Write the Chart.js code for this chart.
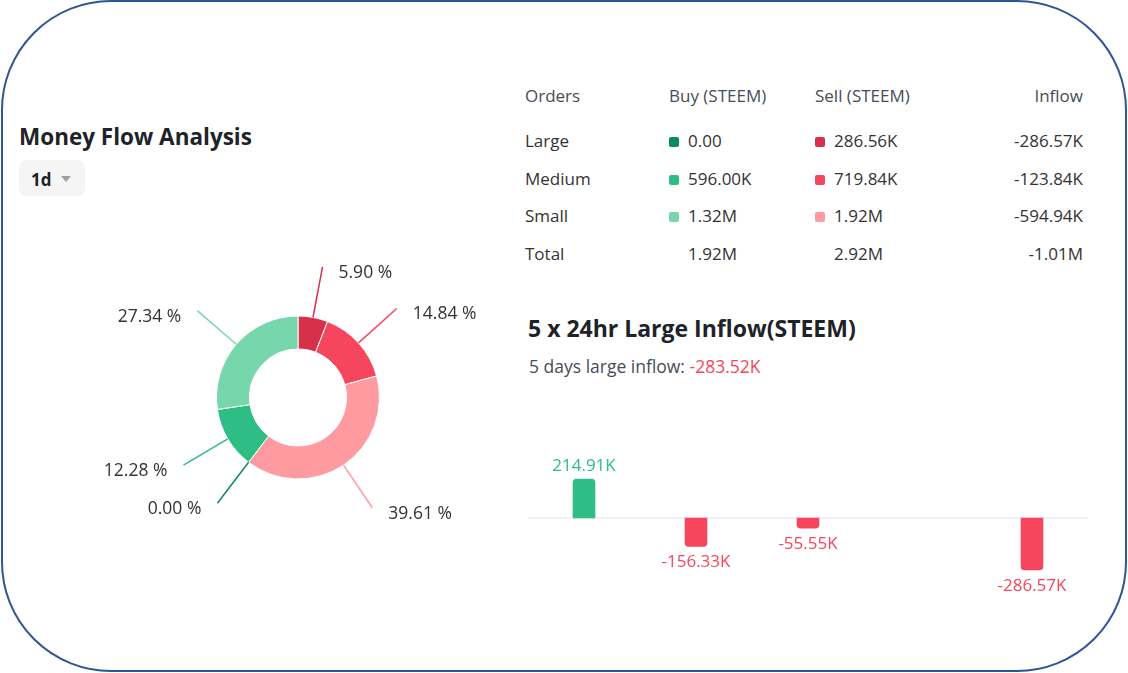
<!DOCTYPE html>
<html lang="en">
<head>
<meta charset="UTF-8">
<title>Money Flow Analysis</title>
<script src="https://cdn.jsdelivr.net/npm/chart.js"></script>
<style>
    body {
        margin: 0;
        width: 1128px;
        height: 673px;
        background: #fff;
        font-family: "Open Sans", sans-serif;
        color: #333;
        position: relative;
        overflow: hidden;
    }
    .frame {
        position: absolute;
        left: 1px; top: 0px;
        width: 1122px; height: 668px;
        border: 2px solid #2f5597;
        border-radius: 110px;
    }
    .t { position: absolute; white-space: nowrap; line-height: 20px; font-size: 17px; }
    .r { text-align: right; }
    .sq { display: inline-block; width: 10px; height: 10px; border-radius: 2px; margin-right: 9px; vertical-align: 0px; }
    #pieWrap { position: absolute; left: 48px; top: 237px; width: 500px; height: 321px; }
    #barWrap { position: absolute; left: 528px; top: 440px; width: 560px; height: 160px; }
</style>
</head>
<body>
<div class="frame"></div>

<div class="t" style="left:19px;top:123px;line-height:28px;font-size:22.5px;font-weight:700;color:#1e2329;">Money Flow Analysis</div>
<div style="position:absolute;left:19px;top:160px;width:66px;height:36px;background:#f5f5f5;border-radius:7px;"></div>
<div class="t" style="left:31px;top:170px;font-weight:700;color:#1e2329;">1d</div>
<div style="position:absolute;left:61px;top:176px;width:0;height:0;border-left:5px solid transparent;border-right:5px solid transparent;border-top:6px solid #a0a0a0;"></div>

<div id="table"></div>

<div class="t" style="left:528px;top:314px;line-height:28px;font-size:23px;font-weight:700;color:#1e2329;">5 x 24hr Large Inflow(STEEM)</div>
<div class="t" style="left:529px;top:356px;font-size:17.5px;color:#474d57;">5 days large inflow: <span id="total5" style="color:#f6465d;"></span></div>

<div id="pieWrap"><canvas id="pie"></canvas></div>
<div id="barWrap"><canvas id="bar"></canvas></div>

<script>
// table data
const tableHeaders = ['Orders', 'Buy (STEEM)', 'Sell (STEEM)', 'Inflow'];
const orderTypes = ['Large', 'Medium', 'Small', 'Total'];
const buyText = ['0.00', '596.00K', '1.32M', '1.92M'];
const sellText = ['286.56K', '719.84K', '1.92M', '2.92M'];
const inflowText = ['-286.57K', '-123.84K', '-594.94K', '-1.01M'];
const buyColors = ['#0e8a5c', '#2ebd85', '#78d6ac'];
const sellColors = ['#d7304b', '#f6465d', '#ff9aa0'];

// doughnut data (clockwise from top)
const pieLabels = ['Large sell', 'Medium sell', 'Small sell', 'Large buy', 'Medium buy', 'Small buy'];
const pieShares = [5.90, 14.84, 39.61, 0.00, 12.28, 27.34];
const pieColors = ['#d7304b', '#f6465d', '#ff9aa0', '#0e8a5c', '#2ebd85', '#78d6ac'];

// 5 x 24hr large inflow, in K
const dayLabels = ['D1', 'D2', 'D3', 'D4', 'D5'];
const dayInflow = [214.91, -156.33, -55.55, 0, -286.57];
const fiveDayTotal = '-283.52K';

// build the table
const colX = [525, 669, 815, 1083];
const rowY = [96, 141, 179, 216, 254];
let html = '';
tableHeaders.forEach((h, i) => {
    if (i === 3) {
        html += '<div class="t r" style="right:' + (1128 - colX[i]) + 'px;top:' + (rowY[0] - 10) + 'px;color:#474d57;">' + h + '</div>';
    } else {
        html += '<div class="t" style="left:' + colX[i] + 'px;top:' + (rowY[0] - 10) + 'px;color:#474d57;">' + h + '</div>';
    }
});
orderTypes.forEach((o, i) => {
    const y = rowY[i + 1] - 10;
    const hasSq = i < 3;
    html += '<div class="t" style="left:' + colX[0] + 'px;top:' + y + 'px;">' + o + '</div>';
    html += '<div class="t" style="left:' + colX[1] + 'px;top:' + y + 'px;">' +
        (hasSq ? '<span class="sq" style="background:' + buyColors[i] + '"></span>' : '<span class="sq"></span>') + buyText[i] + '</div>';
    html += '<div class="t" style="left:' + colX[2] + 'px;top:' + y + 'px;">' +
        (hasSq ? '<span class="sq" style="background:' + sellColors[i] + '"></span>' : '<span class="sq"></span>') + sellText[i] + '</div>';
    html += '<div class="t r" style="right:' + (1128 - colX[3]) + 'px;top:' + y + 'px;">' + inflowText[i] + '</div>';
});
document.getElementById('table').innerHTML = html;
document.getElementById('total5').textContent = fiveDayTotal;

// leader lines + percentage labels around the doughnut
const pieLabelPlugin = {
    id: 'pieLabels',
    afterDatasetsDraw(chart) {
        const ctx = chart.ctx;
        const arcs = chart.getDatasetMeta(0).data;
        ctx.save();
        ctx.font = '17.5px "Open Sans", sans-serif';
        ctx.textBaseline = 'middle';
        arcs.forEach((arc, i) => {
            const p = arc.getProps(['x', 'y', 'startAngle', 'endAngle', 'outerRadius'], true);
            const mid = (p.startAngle + p.endAngle) / 2;
            const c = Math.cos(mid), s = Math.sin(mid);
            const x1 = p.x + p.outerRadius * c, y1 = p.y + p.outerRadius * s;
            const x2 = p.x + 133 * c, y2 = p.y + 133 * s;
            ctx.strokeStyle = pieColors[i];
            ctx.lineWidth = 1.5;
            ctx.beginPath();
            ctx.moveTo(x1, y1);
            ctx.lineTo(x2, y2);
            ctx.stroke();
            ctx.fillStyle = '#333';
            ctx.textAlign = c >= 0 ? 'left' : 'right';
            ctx.fillText(pieShares[i].toFixed(2) + ' %', x2 + (c >= 0 ? 16 : -16), y2 + 6);
        });
        ctx.restore();
    }
};

new Chart(document.getElementById('pie'), {
    type: 'doughnut',
    data: {
        labels: pieLabels,
        datasets: [{
            data: pieShares,
            backgroundColor: pieColors,
            borderColor: '#fff',
            borderWidth: 1,
            radius: 81.5
        }]
    },
    options: {
        responsive: true,
        maintainAspectRatio: false,
        animation: false,
        cutout: '59.5%',
        plugins: { legend: { display: false }, tooltip: { enabled: false } }
    },
    plugins: [pieLabelPlugin]
});

// zero line + value labels for the bars
const barLabelPlugin = {
    id: 'barLabels',
    beforeDatasetsDraw(chart) {
        const ctx = chart.ctx;
        const y0 = chart.scales.y.getPixelForValue(0);
        ctx.save();
        ctx.strokeStyle = '#eaecef';
        ctx.lineWidth = 1.5;
        ctx.beginPath();
        ctx.moveTo(chart.chartArea.left, y0);
        ctx.lineTo(chart.chartArea.right, y0);
        ctx.stroke();
        ctx.restore();
    },
    afterDatasetsDraw(chart) {
        const ctx = chart.ctx;
        const bars = chart.getDatasetMeta(0).data;
        ctx.save();
        ctx.font = '17px "Open Sans", sans-serif';
        ctx.textAlign = 'center';
        ctx.textBaseline = 'middle';
        bars.forEach((bar, i) => {
            const v = dayInflow[i];
            if (v === 0) return;
            ctx.fillStyle = v > 0 ? '#2ebd85' : '#f6465d';
            const ty = v > 0 ? bar.y - 13 : bar.y + 16;
            ctx.fillText(v.toFixed(2) + 'K', bar.x, ty);
        });
        ctx.restore();
    }
};

new Chart(document.getElementById('bar'), {
    type: 'bar',
    data: {
        labels: dayLabels,
        datasets: [{
            data: dayInflow,
            backgroundColor: dayInflow.map(v => v > 0 ? '#2ebd85' : (v < 0 ? '#f6465d' : 'rgba(0,0,0,0)')),
            barThickness: 22,
            borderRadius: 4,
            borderSkipped: 'start'
        }]
    },
    options: {
        responsive: true,
        maintainAspectRatio: false,
        animation: false,
        layout: { padding: 0 },
        scales: {
            x: { display: false },
            y: { display: false, min: -452, max: 430 }
        },
        plugins: { legend: { display: false }, tooltip: { enabled: false } }
    },
    plugins: [barLabelPlugin]
});
</script>
</body>
</html>
